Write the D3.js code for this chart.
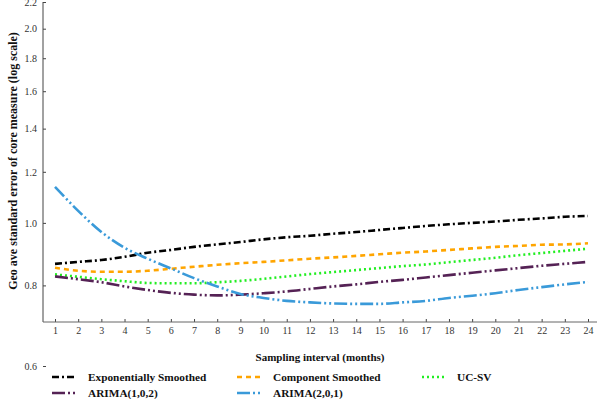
<!DOCTYPE html>
<html>
<head>
<meta charset="utf-8">
<script src="https://cdn.jsdelivr.net/npm/d3@7"></script>
<style>
  body { margin: 0; background: #fff; }
  svg { display: block; font-family: "Liberation Serif", "DejaVu Serif", serif; }
  .tick text { fill: #333; font-size: 10px; }
  .bold { font-weight: bold; fill: #111; }
</style>
</head>
<body>
<svg></svg>
<script>
var months = [1, 2, 3, 4, 5, 6, 7, 8, 9, 10, 11, 12, 13, 14, 15, 16, 17, 18, 19, 20, 21, 22, 23, 24];
var yTicks = [0.6, 0.8, 1.0, 1.2, 1.4, 1.6, 1.8, 2.0, 2.2];

var expSmoothed = [0.864, 0.870, 0.876, 0.886, 0.899, 0.908, 0.918, 0.926, 0.934, 0.943, 0.950, 0.955,
  0.962, 0.968, 0.975, 0.982, 0.989, 0.995, 1.000, 1.005, 1.011, 1.016, 1.022, 1.025];
var compSmoothed = [0.852, 0.843, 0.840, 0.840, 0.843, 0.849, 0.855, 0.861, 0.866, 0.870, 0.875, 0.880,
  0.884, 0.889, 0.894, 0.899, 0.903, 0.908, 0.913, 0.918, 0.921, 0.925, 0.926, 0.930];
var ucsv = [0.832, 0.825, 0.818, 0.812, 0.807, 0.806, 0.806, 0.809, 0.813, 0.819, 0.826, 0.833,
  0.839, 0.845, 0.851, 0.857, 0.862, 0.869, 0.876, 0.883, 0.891, 0.898, 0.905, 0.912];
var arima102 = [0.826, 0.818, 0.809, 0.797, 0.787, 0.779, 0.774, 0.772, 0.774, 0.778, 0.783, 0.790,
  0.797, 0.803, 0.810, 0.816, 0.823, 0.830, 0.837, 0.844, 0.851, 0.858, 0.864, 0.870];
var arima201 = [1.137, 1.044, 0.968, 0.915, 0.880, 0.850, 0.821, 0.797, 0.776, 0.765, 0.757, 0.753,
  0.750, 0.749, 0.749, 0.753, 0.757, 0.765, 0.771, 0.778, 0.787, 0.795, 0.803, 0.810];

var Series_List = [
  { name: "Exponentially Smoothed", values: expSmoothed, color: "#000000", dash: "7,3,2,3" },
  { name: "Component Smoothed", values: compSmoothed, color: "#ffa500", dash: "5,4" },
  { name: "UC-SV", values: ucsv, color: "#22ee22", dash: "2,3" },
  { name: "ARIMA(1,0,2)", values: arima102, color: "#552255", dash: "13,3,2,3,2,3" },
  { name: "ARIMA(2,0,1)", values: arima201, color: "#3a9ad9", dash: "13,3,2,3,2,3" }
];

var width = 600;
var height = 399;
var fontFam = "'Liberation Serif', 'Times New Roman', 'DejaVu Serif', serif";

var svg = d3.select("svg").attr("width", width).attr("height", height);

var x = d3.scaleLinear().domain([1, 24]).range([55, 588]);
var y = d3.scaleLog().domain([0.6, 2.2]).range([366, 2]);
var axisY = 322;
var axisX = 43;

// y axis (ticks point inward)
var yAxis = svg
  .append("g")
  .attr("transform", "translate(" + axisX + ",0)")
  .call(
    d3
      .axisLeft(y)
      .tickValues(yTicks)
      .tickSize(-3)
      .tickPadding(6)
      .tickFormat(d3.format(".1f"))
  )
  .attr("font-family", fontFam);
yAxis.select(".domain").remove();
yAxis.selectAll(".tick line").attr("stroke", "#444");
svg
  .append("line")
  .attr("x1", axisX)
  .attr("x2", axisX)
  .attr("y1", y(2.2))
  .attr("y2", axisY)
  .attr("stroke", "#444");

// x axis
var xAxis = svg
  .append("g")
  .attr("transform", "translate(0," + axisY + ")")
  .call(
    d3
      .axisBottom(x)
      .tickValues(months)
      .tickSize(-3)
      .tickPadding(5)
      .tickFormat(d3.format("d"))
  )
  .attr("font-family", fontFam);
xAxis.select(".domain").remove();
xAxis.selectAll(".tick line").attr("stroke", "#444");
svg
  .append("line")
  .attr("x1", axisX)
  .attr("x2", 597)
  .attr("y1", axisY)
  .attr("y2", axisY)
  .attr("stroke", "#666");

// axis titles
svg
  .append("text")
  .attr("class", "bold")
  .attr("transform", "translate(17,161) rotate(-90)")
  .attr("text-anchor", "middle")
  .style("font-size", "12px")
  .text("Geo ave standard error of core measure (log scale)");

svg
  .append("text")
  .attr("class", "bold")
  .attr("x", 320)
  .attr("y", 361)
  .attr("text-anchor", "middle")
  .style("font-size", "11px")
  .text("Sampling interval (months)");

// lines
var line = d3
  .line()
  .x(function(d, i) {
    return x(months[i]);
  })
  .y(function(d) {
    return y(d);
  })
  .curve(d3.curveMonotoneX);

svg
  .append("g")
  .selectAll("path")
  .data(Series_List)
  .enter()
  .append("path")
  .attr("fill", "none")
  .attr("stroke", function(d) {
    return d.color;
  })
  .attr("stroke-width", 2.6)
  .attr("stroke-dasharray", function(d) {
    return d.dash;
  })
  .attr("d", function(d) {
    return line(d.values);
  });

// legend
var legendPos = [
  { x: 52, y: 377 },
  { x: 237, y: 377 },
  { x: 422, y: 377 },
  { x: 52, y: 393 },
  { x: 237, y: 393 }
];

var legend = svg.append("g").attr("class", "legend");

Series_List.forEach(function(element, i) {
  var row = legend
    .append("g")
    .attr("transform", "translate(" + legendPos[i].x + "," + legendPos[i].y + ")");
  row
    .append("line")
    .attr("x1", 0)
    .attr("x2", 25)
    .attr("y1", 0)
    .attr("y2", 0)
    .attr("stroke", element.color)
    .attr("stroke-width", 2.6)
    .attr("stroke-dasharray", element.dash);
  row
    .append("text")
    .attr("class", "bold")
    .attr("x", i == 2 ? 35 : 36)
    .attr("y", 3.5)
    .style("font-size", "11.3px")
    .text(element.name);
});
</script>
</body>
</html>
